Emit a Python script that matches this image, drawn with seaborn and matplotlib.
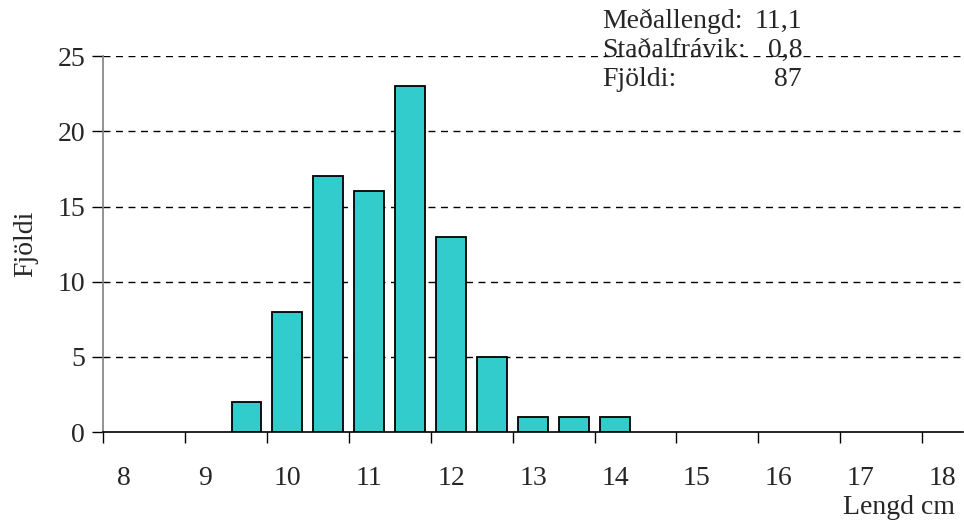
import matplotlib
matplotlib.use("Agg")
import matplotlib.pyplot as plt
import seaborn as sns
import pandas as pd

# length classes (cm) and number of fish in each
lengths = [9.5, 10.0, 10.5, 11.0, 11.5, 12.0, 12.5, 13.0, 13.5, 14.0]
counts = [2, 8, 17, 16, 23, 13, 5, 1, 1, 1]
tick_labels = ["8", "9", "10", "11", "12", "13", "14", "15", "16", "17", "18"]
stat_names = ["Meðallengd:", "Staðalfrávik:", "Fjöldi:"]
stat_values = ["11,1", "0,8", "87"]

sns.set_theme(style="white")
plt.rcParams["font.family"] = ["Liberation Serif", "DejaVu Serif"]
FS = 20

df = pd.DataFrame({"Lengd": lengths, "Fjoldi": counts})

fig = plt.figure(figsize=(9.64, 5.29), dpi=100)
ax = fig.add_axes([0.107, 0.183, 0.892, 0.711])

# dashed horizontal grid behind the bars
for yv in [5, 10, 15, 20, 25]:
    ax.axhline(yv, color="black", lw=1, ls=(0, (5, 4)), zorder=0)

sns.barplot(data=df, x="Lengd", y="Fjoldi", native_scale=True, width=0.73,
            color="#33CCCC", edgecolor="black", linewidth=1.3, saturation=1,
            ax=ax, zorder=2)

ax.set_xlim(7.75, 18.25)
ax.set_ylim(0, 25)
ax.set_yticks([0, 5, 10, 15, 20, 25])
ax.set_yticklabels(["0", "5", "10", "15", "20", "25"], fontsize=FS)

# tick marks on class boundaries, labels centred on the classes
ax.set_xticks([7.75 + i for i in range(11)])
ax.set_xticklabels([])
ax.set_xticks([8 + i for i in range(11)], minor=True)
ax.set_xticklabels(tick_labels, minor=True, fontsize=FS)
ax.tick_params(axis="x", which="major", direction="out", length=8, width=1,
               color="black", bottom=True)
ax.tick_params(axis="x", which="minor", length=0, pad=24)
ax.tick_params(axis="y", direction="out", length=8, width=1, color="black",
               left=True, pad=5)

for s in ["top", "right"]:
    ax.spines[s].set_visible(False)
ax.spines["left"].set_color("#808080")
ax.spines["left"].set_linewidth(1.2)
ax.spines["bottom"].set_color("black")
ax.spines["bottom"].set_linewidth(1.2)

ax.set_xlabel("")
ax.set_ylabel("Fjöldi", fontsize=FS, labelpad=14)
fig.text(0.991, 0.04, "Lengd cm", ha="right", va="center", fontsize=FS)

# summary statistics in the top right
ys = [0.947, 0.892, 0.838]
for name, val, yy in zip(stat_names, stat_values, ys):
    fig.text(0.625, yy, name, ha="left", va="baseline", fontsize=FS)
    fig.text(0.832, yy, val, ha="right", va="baseline", fontsize=FS)

fig.savefig("out.png", dpi=100)
